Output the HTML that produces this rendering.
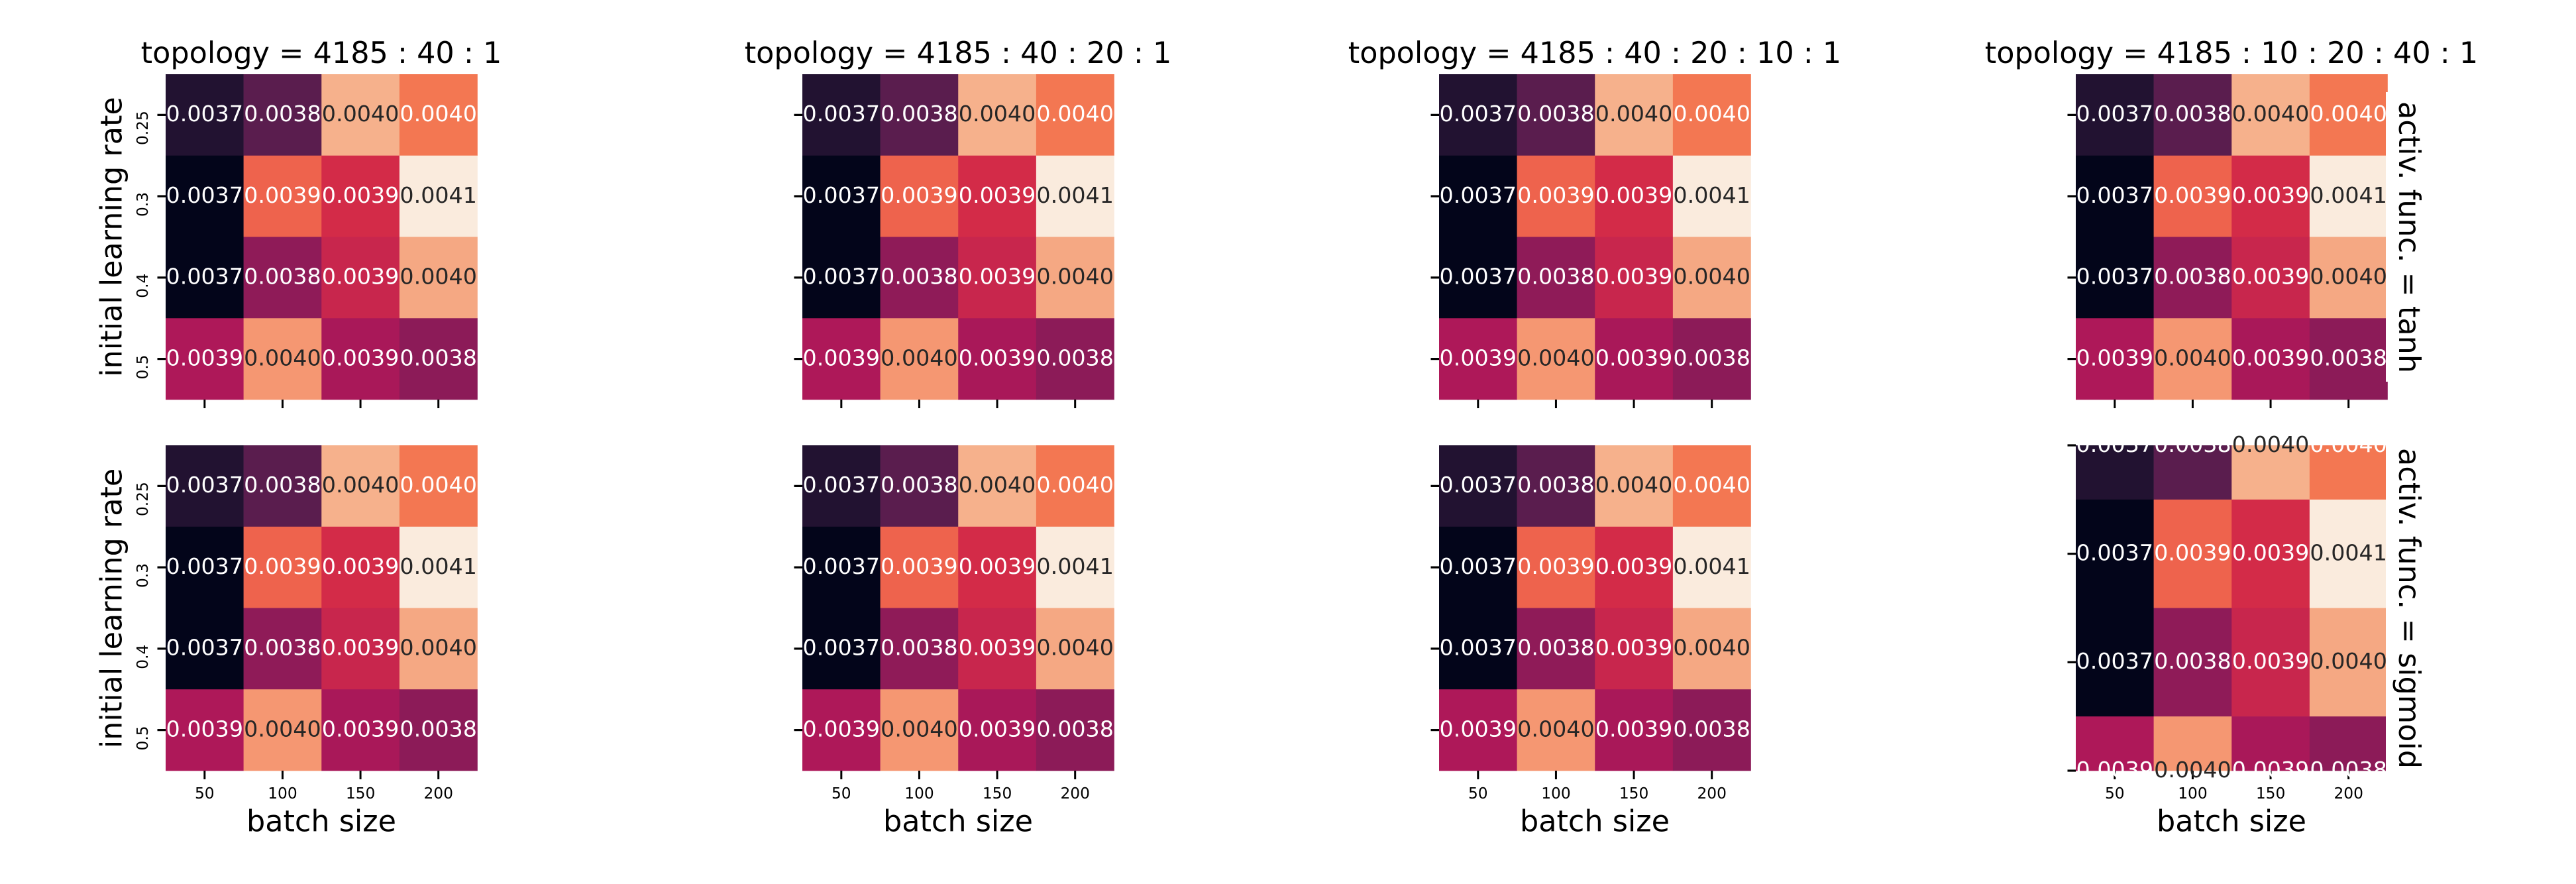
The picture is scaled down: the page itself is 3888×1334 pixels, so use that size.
<!DOCTYPE html>
<html lang="en">
<head>
<meta charset="utf-8">
<title>Heatmap grid: initial learning rate vs batch size</title>
<style>
  html, body { margin: 0; padding: 0; background: #ffffff; }
  svg { display: block; }
  text { font-family: "DejaVu Sans", "Liberation Sans", sans-serif; fill: #000000; }
  .title, .axis-label { font-size: 44.5px; }
  .tick-label { font-size: 23.3px; }
  .annot { font-size: 33.3px; text-anchor: middle; }
</style>
</head>
<body>
<svg id="chart" xmlns="http://www.w3.org/2000/svg" width="3888" height="1334" viewBox="0 0 3888 1334">
  <rect x="0" y="0" width="3888" height="1334" fill="#ffffff"/>
  <g id="panels"></g>

  <text class="title" x="485" y="95" text-anchor="middle">topology = 4185 : 40 : 1</text>
  <text class="title" x="1446" y="95" text-anchor="middle">topology = 4185 : 40 : 20 : 1</text>
  <text class="title" x="2407" y="95" text-anchor="middle">topology = 4185 : 40 : 20 : 10 : 1</text>
  <text class="title" x="3368" y="95" text-anchor="middle">topology = 4185 : 10 : 20 : 40 : 1</text>

  <text class="axis-label" transform="translate(183.5,357.5) rotate(-90)" text-anchor="middle">initial learning rate</text>
  <text class="axis-label" transform="translate(183.5,918) rotate(-90)" text-anchor="middle">initial learning rate</text>

  <text class="axis-label" x="485" y="1254.5" text-anchor="middle">batch size</text>
  <text class="axis-label" x="1446" y="1254.5" text-anchor="middle">batch size</text>
  <text class="axis-label" x="2407" y="1254.5" text-anchor="middle">batch size</text>
  <text class="axis-label" x="3368" y="1254.5" text-anchor="middle">batch size</text>

  <rect x="3601" y="139" width="70" height="437" fill="#ffffff"/>
  <rect x="3601" y="664" width="70" height="508" fill="#ffffff"/>
  <text class="axis-label" transform="translate(3621,358) rotate(90)" text-anchor="middle">activ. func. = tanh</text>
  <text class="axis-label" transform="translate(3621,918) rotate(90)" text-anchor="middle">activ. func. = sigmoid</text>
</svg>

<script>
// Chart data
const batchSizes = ['50', '100', '150', '200'];
const learningRates = ['0.25', '0.3', '0.4', '0.5'];
const lossRow025 = [0.003747, 0.003795, 0.004001, 0.003956];
const lossRow03 = [0.003717, 0.003942, 0.003895, 0.004051];
const lossRow04 = [0.003717, 0.003837, 0.003885, 0.003994];
const lossRow05 = [0.003861, 0.003981, 0.003857, 0.003834];
const lossRows = [lossRow025, lossRow03, lossRow04, lossRow05];

// Seaborn "rocket" colormap stops
const rocketStops = ['#03051a', '#35193e', '#701f57', '#ad1759', '#e13342', '#f37651', '#f6b48f', '#faebdd'];

const NS = 'http://www.w3.org/2000/svg';
const root = document.getElementById('panels');

const allValues = lossRows.flat();
const vmin = Math.min.apply(null, allValues);
const vmax = Math.max.apply(null, allValues);

function hexToRgb(h) {
  return [parseInt(h.slice(1, 3), 16), parseInt(h.slice(3, 5), 16), parseInt(h.slice(5, 7), 16)];
}
function colorScale(v) {
  const t = Math.max(0, Math.min(1, (v - vmin) / (vmax - vmin))) * (rocketStops.length - 1);
  const i = Math.min(Math.floor(t), rocketStops.length - 2);
  const f = t - i;
  const a = hexToRgb(rocketStops[i]);
  const b = hexToRgb(rocketStops[i + 1]);
  return [0, 1, 2].map(function (k) { return Math.round(a[k] + (b[k] - a[k]) * f); });
}
function luminance(rgb) {
  const c = rgb.map(function (x) {
    const s = x / 255;
    return s <= 0.03928 ? s / 12.92 : Math.pow((s + 0.055) / 1.055, 2.4);
  });
  return 0.2126 * c[0] + 0.7152 * c[1] + 0.0722 * c[2];
}
function make(tag, parent, attrs) {
  const node = document.createElementNS(NS, tag);
  Object.keys(attrs).forEach(function (k) { node.setAttribute(k, attrs[k]); });
  parent.appendChild(node);
  return node;
}

function drawPanel(p) {
  const panel = make('g', root, {});
  
  

  const nx = batchSizes.length;
  const ny = learningRates.length;
  const xScale = function (u) { return p.left + (u / nx) * p.width; };
  const yScale = function (u) { return p.top + ((u - p.yDomain[0]) / (p.yDomain[1] - p.yDomain[0])) * p.height; };
  const yClamp = function (u) { return Math.max(p.top, Math.min(p.top + p.height, yScale(u))); };

  // heatmap cells
  lossRows.forEach(function (row, r) {
    row.forEach(function (v, c) {
      const rgb = colorScale(v);
      const cell = make('rect', panel, {
        x: xScale(c),
        y: yClamp(r),
        width: xScale(c + 1) - xScale(c) + 0.3,
        height: yClamp(r + 1) - yClamp(r) + 0.3,
        fill: 'rgb(' + rgb.join(',') + ')'
      });
      
      
    });
  });

  // x ticks and tick labels
  batchSizes.forEach(function (label, c) {
    const x = xScale(c + 0.5);
    const bottom = p.top + p.height;
    const tick = make('line', panel, { x1: x, x2: x, y1: bottom, y2: bottom + 13, stroke: '#000', 'stroke-width': 3 });
    
    
    if (p.showXLabels) {
      const t = make('text', panel, { x: x, y: 1205, 'text-anchor': 'middle', 'class': 'tick-label' });
      
      
      t.textContent = label;
    }
  });

  // y ticks and tick labels
  learningRates.forEach(function (label, r) {
    const y = yScale(r + 0.5);
    const tick = make('line', panel, { x1: p.left - 12.5, x2: p.left, y1: y, y2: y, stroke: '#000', 'stroke-width': 3.2 });
    
    
    if (p.showYLabels) {
      const t = make('text', panel, { transform: 'translate(223,' + (y - 6.2) + ') rotate(-90)', 'text-anchor': 'end', 'class': 'tick-label' });
      
      
      t.textContent = label;
    }
  });

  // annotations, white text on white margin stays invisible
  lossRows.forEach(function (row, r) {
    row.forEach(function (v, c) {
      const t = make('text', panel, {
        x: xScale(c + 0.5),
        y: yScale(r + 0.5) + 9.8,
        'class': 'annot',
        style: 'fill:' + (luminance(colorScale(v)) > 0.408 ? '#262626' : '#ffffff')
      });
      
      
      t.textContent = v.toFixed(4);
    });
  });
}

const columnLefts = [250, 1211, 2172, 3133];
const rowTops = [112, 672];
rowTops.forEach(function (top, ri) {
  columnLefts.forEach(function (left, ci) {
    const shifted = ri === 1 && ci === 3;
    drawPanel({
      left: left,
      top: top,
      width: 470.5,
      height: 491,
      yDomain: shifted ? [0.5, 3.5] : [0, 4],
      showXLabels: ri === 1,
      showYLabels: ci === 0
    });
  });
});
</script>
</body>
</html>
